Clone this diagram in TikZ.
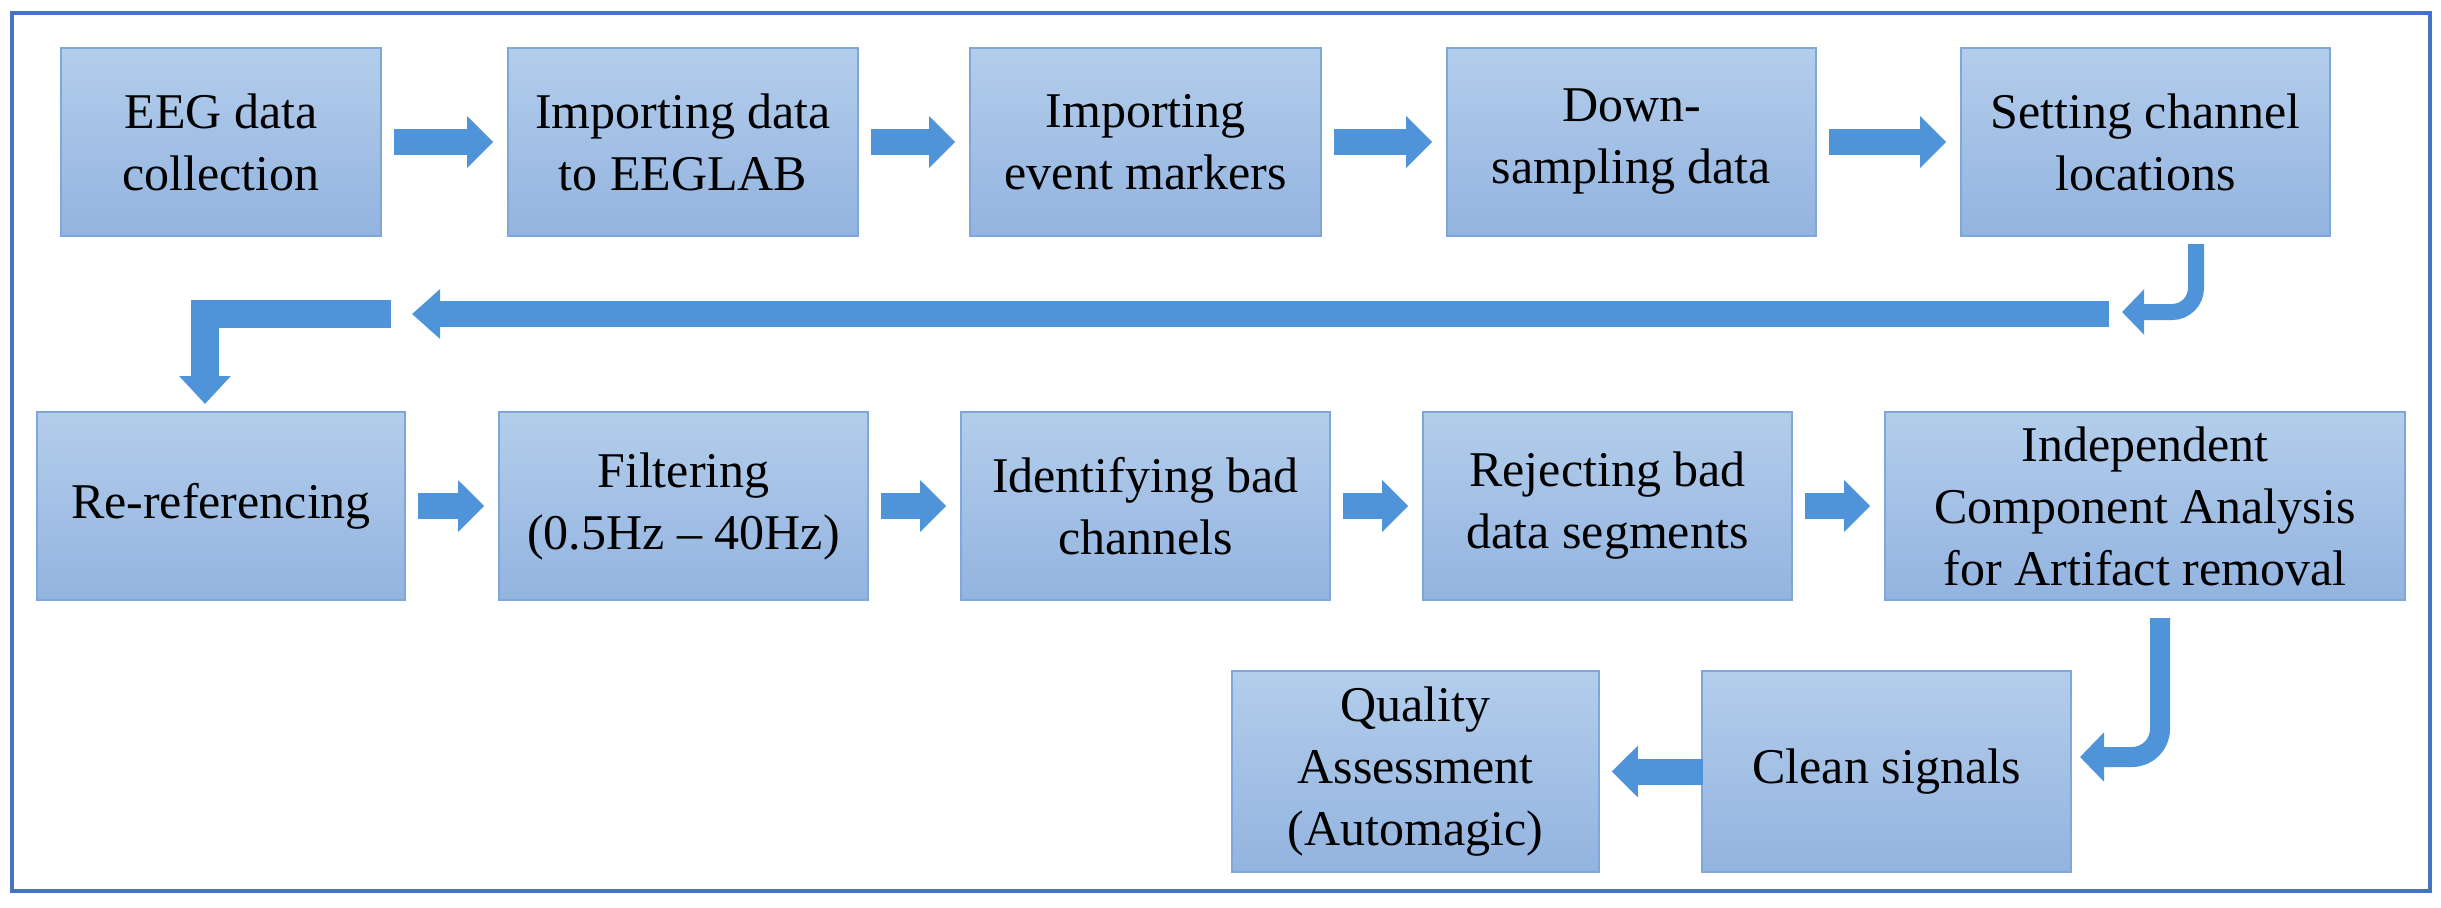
\documentclass[tikz,border=0pt]{standalone}
\usepackage{fontspec}
\setmainfont{Liberation Serif}
\usetikzlibrary{arrows.meta}
\definecolor{boxtop}{HTML}{B3CDEB}
\definecolor{boxbot}{HTML}{93B4E0}
\definecolor{boxline}{HTML}{7FA7DB}
\definecolor{arr}{HTML}{4F93D8}
\definecolor{frame}{HTML}{4472C4}
\begin{document}
\begin{tikzpicture}[x=0.5pt,y=-0.5pt,
  box/.style={draw=boxline,line width=0.8pt,top color=boxtop,bottom color=boxbot,
    minimum height=94pt,align=center,inner sep=2pt,
    font=\fontsize{25}{31}\selectfont},
  fat/.style={draw=arr,line width=13pt,-{Triangle[width=25pt,length=13pt]},
    shorten <=6pt,shorten >=7pt},
  bend/.style={draw=arr,line width=#1,-{Triangle[width=23pt,length=12pt]}},
  bend/.default=13pt]
\useasboundingbox (0,0) rectangle (2441,907);
\draw[frame,line width=2pt] (12,13) rectangle (2430,891);
% row 1
\node[box,minimum width=160pt] (b1) at (221,142) {EEG data\\collection};
\node[box,minimum width=175pt] (b2) at (683,142) {Importing data\\to EEGLAB};
\node[box,minimum width=175.5pt] (b3) at (1145.5,142) {Importing\\event markers};
\node[box,minimum width=184.5pt] (b4) at (1631.5,142) {Down-\\sampling data};
\node[box,minimum width=184.5pt] (b5) at (2145.5,142) {Setting channel\\locations};
% row 2
\node[box,minimum width=184pt] (r1) at (221,506) {Re-referencing};
\node[box,minimum width=184.5pt] (r2) at (683.5,506) {Filtering\\(0.5Hz -- 40Hz)};
\node[box,minimum width=184.5pt] (r3) at (1145.5,506) {Identifying bad\\channels};
\node[box,minimum width=184.5pt] (r4) at (1607.5,506) {Rejecting bad\\data segments};
\node[box,minimum width=260pt] (r5) at (2145,506) {Independent\\Component Analysis\\for Artifact removal};
% row 3
\node[box,minimum width=183.5pt,minimum height=100.5pt] (q) at (1415.5,771.5) {Quality\\Assessment\\(Automagic)};
\node[box,minimum width=184.5pt,minimum height=100.5pt] (c) at (1886.5,771.5) {Clean signals};
% straight arrows
\foreach \a/\b in {b1/b2,b2/b3,b3/b4,b4/b5,r1/r2,r2/r3,r3/r4,r4/r5}
  \draw[fat] (\a.east) -- (\b.west);
\draw[fat,shorten <=-1pt,shorten >=6pt] (c.west) -- (q.east);
% return path
\coordinate (l1) at (2109,314);
\coordinate (l2) at (412,314);
\coordinate (m1) at (391,314);
\coordinate (m2) at (205,314);
\coordinate (m3) at (205,404);
\coordinate (s1) at (2196,244);
\coordinate (s2) at (2196,312);
\coordinate (s3) at (2122,312);
\coordinate (i1) at (2160,618);
\coordinate (i2) at (2160,757);
\coordinate (i3) at (2080,757);
\draw[bend,-{Triangle[width=24pt,length=14pt]}] (l1) -- (l2);
\draw[draw=arr,line width=14pt,-{Triangle[width=25pt,length=14pt]}] (m1) -- (m2) -- (m3);
\draw[bend=8pt,rounded corners=12pt,-{Triangle[width=22pt,length=11pt]}] (s1) -- (s2) -- (s3);
\draw[bend=10pt,rounded corners=14pt,-{Triangle[width=24pt,length=12pt]}] (i1) -- (i2) -- (i3);
\end{tikzpicture}
\end{document}
